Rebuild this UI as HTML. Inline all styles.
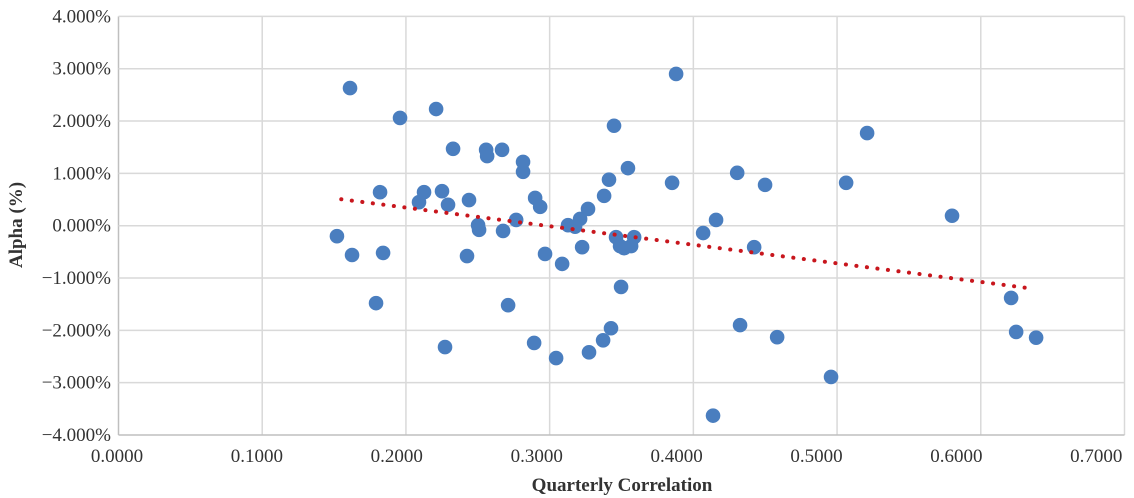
<!DOCTYPE html>
<html><head><meta charset="utf-8"><style>
html,body{margin:0;padding:0;background:#fff;}
svg{display:block;font-family:"Liberation Serif",serif;}
</style></head><body>
<svg id="chart" width="1134" height="498" viewBox="0 0 1134 498"></svg>
<script>
const xTicks=[0,0.1,0.2,0.3,0.4,0.5,0.6,0.7];
const yTicks=[-4,-3,-2,-1,0,1,2,3,4];
const xVals=[.1520,.1611,.1625,.1792,.1820,.1841,.1959,.2091,.2126,.2210,.2251,.2272,.2293,.2328,.2425,.2439,.2502,.2509,.2558,.2565,.2669,.2676,.2711,.2767,.2815,.2815,.2899,.2934,.2968,.2892,.3045,.3087,.3128,.3177,.3212,.3226,.3267,.3274,.3372,.3379,.3413,.3427,.3448,.3462,.3490,.3518,.3497,.3545,.3567,.3588,.3852,.3880,.4068,.4137,.4158,.4305,.4325,.4423,.4499,.4583,.4958,.5063,.5209,.5800,.6211,.6246,.6385];
const yVals=[-.20,2.63,-.56,-1.48,.64,-.52,2.06,.45,.64,2.23,.66,-2.32,.40,1.47,-.58,.49,.01,-.08,1.45,1.33,1.45,-.10,-1.52,.11,1.22,1.03,.53,.36,-.54,-2.24,-2.53,-.73,.01,-.02,.13,-.41,.32,-2.42,-2.19,.57,.88,-1.96,1.91,-.22,-.39,-.43,-1.17,1.10,-.39,-.22,.82,2.90,-.14,-3.63,.11,1.01,-1.90,-.41,.78,-2.13,-2.89,.82,1.77,.19,-1.38,-2.03,-2.14];

const NS='http://www.w3.org/2000/svg';
const svg=document.getElementById('chart');
const L=118.5,R=1124.5,T=16.4,B=435;
const sx=v=>L+(v-0)/(0.7-0)*(R-L);
const sy=v=>B-(v+4)/8*(B-T);
const lx=v=>117+v*1399;
function mk(tag,attrs,parent){const e=document.createElementNS(NS,tag);for(const k in attrs)e.setAttribute(k,attrs[k]);(parent||svg).appendChild(e);return e;}

const grid=mk('g',{});


xTicks.forEach((t,i)=>{
  const l=mk('line',{x1:sx(t),x2:sx(t),y1:T,y2:B,stroke:i===0?'#bfbfbf':'#d9d9d9','stroke-width':1.5},grid);
  
  
  const tx=mk('text',{x:lx(t),y:462,'text-anchor':'middle','font-size':19,fill:'#333'});
  tx.textContent=t.toFixed(4);
  
  
});
yTicks.forEach(t=>{
  const l=mk('line',{x1:L,x2:R,y1:sy(t),y2:sy(t),stroke:t===-4?'#bfbfbf':'#d9d9d9','stroke-width':1.5},grid);
  
  
  const tx=mk('text',{x:111,y:sy(t)+6,'text-anchor':'end','font-size':19,fill:'#333'});
  tx.textContent=(t<0?'\u2212':'')+Math.abs(t).toFixed(3)+'%';
  
  
});

const xt=mk('text',{x:622,y:491,'text-anchor':'middle','font-size':19,'font-weight':'bold',fill:'#333'});
xt.textContent='Quarterly Correlation';


const yt=mk('text',{x:0,y:0,'text-anchor':'middle','font-size':19,'font-weight':'bold',fill:'#333',transform:'translate(22,225) rotate(-90)'});
yt.textContent='Alpha (%)';



const pts=mk('g',{});


xVals.forEach((x,i)=>{
  const c=mk('circle',{cx:sx(x),cy:sy(yVals[i]),r:7.3,fill:'#4a7ebf'},pts);
  
  
});

const n=xVals.length;
let mx=0,my=0;xVals.forEach((x,i)=>{mx+=x;my+=yVals[i];});mx/=n;my/=n;
let sxy=0,sxx=0;xVals.forEach((x,i)=>{sxy+=(x-mx)*(yVals[i]-my);sxx+=(x-mx)*(x-mx);});
const slope=sxy/sxx,icpt=my-slope*mx;
const x0=Math.min(...xVals)+0.003,x1=Math.max(...xVals)-0.003;
const tl=mk('line',{x1:sx(x0),y1:sy(icpt+slope*x0),x2:sx(x1),y2:sy(icpt+slope*x1),stroke:'#c8161d','stroke-width':4,'stroke-linecap':'round','stroke-dasharray':'0.1 10.5'});


</script>
</body></html>
